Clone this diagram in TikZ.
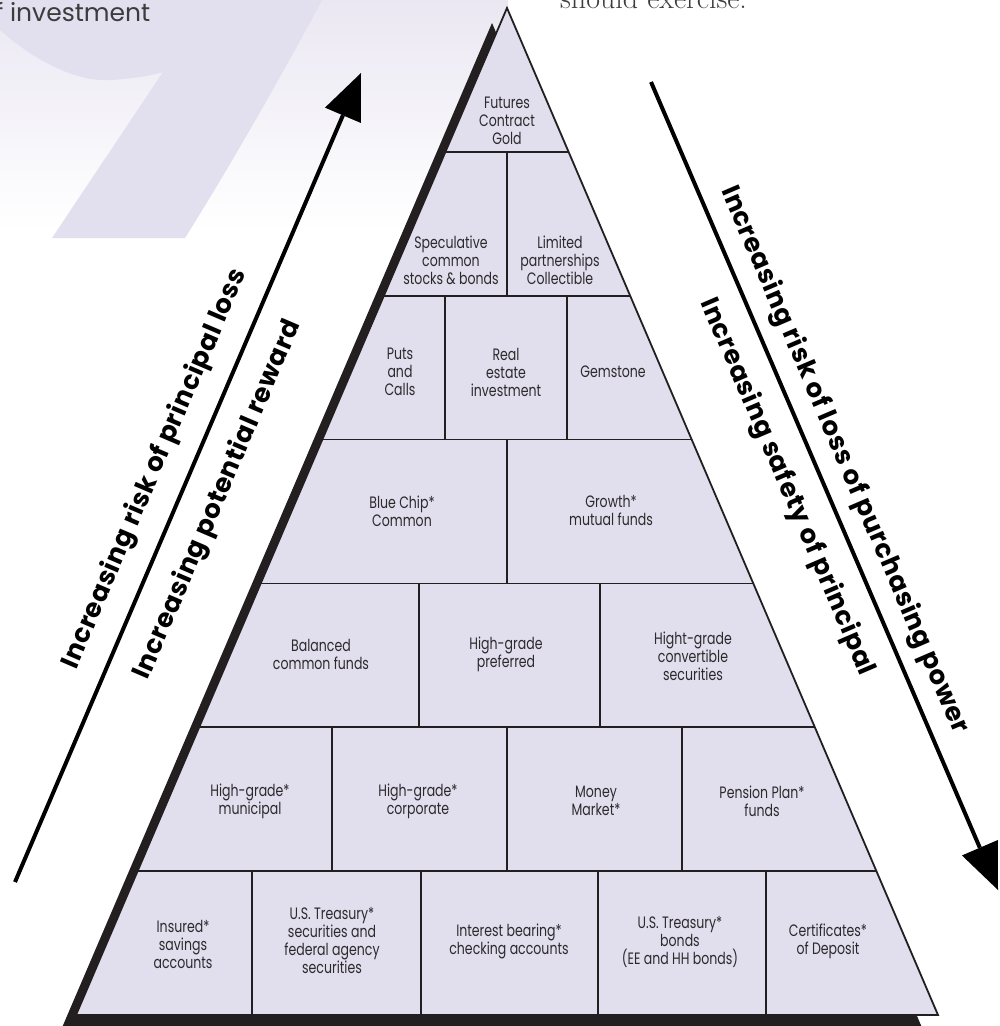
\documentclass[tikz,border=0pt]{standalone}
\usepackage{fontspec}
\newfontfamily\popfont{Poppins}
\newfontfamily\popspaced[LetterSpace=2.5]{Poppins}
\newfontfamily\popnarrow[FakeStretch=0.76]{Poppins}
\usetikzlibrary{calc}
\definecolor{lav}{RGB}{225,222,237}
\definecolor{lavbg}{RGB}{234,231,242}
\definecolor{ninec}{RGB}{226,223,238}
\definecolor{ink}{RGB}{35,31,32}
\definecolor{txt}{RGB}{45,42,45}
\definecolor{pagetxt}{RGB}{60,60,60}
\begin{document}
\begin{tikzpicture}[x=1pt,y=-1pt,
  cell/.style={font=\popnarrow\fontsize{16.5}{18}\selectfont, text=txt, align=center, inner sep=0pt},
  divider/.style={draw=ink, line width=1.8pt},
  arrowline/.style={draw=black, line width=4pt},
  arrowhead/.style={fill=black},
  sidelabel/.style={font=\popspaced\bfseries\fontsize{26}{30}\selectfont, text=black, inner sep=0pt},
  pagetext/.style={text=pagetxt, inner sep=0pt, anchor=base west},
]
\useasboundingbox (0,0) rectangle (1000,1026);
\clip (0,0) rectangle (1000,1026);
% page background pieces
\shade[top color=lavbg, bottom color=white] (0,0) rectangle (508,230);
\fill[ninec] (0,0) -- (0,30) .. controls (40,65) and (80,82) .. (110,80)
  .. controls (130,79) and (150,76) .. (163,72) -- (52,238) -- (185,238)
  .. controls (240,150) and (290,60) .. (322,0) -- cycle;
\node[pagetext, font=\popfont\fontsize{25}{30}\selectfont] (inv) at (-21,21) {of investment};
\node[pagetext, font=\fontsize{30}{36}\selectfont] (exer) at (560,8) {should exercise.};
% pyramid
\coordinate (A) at (507,8);
\coordinate (BL) at (76,1015);
\coordinate (BR) at (938,1015);
\fill[ink] ([shift={(-15,15)}]A) -- ([shift={(-15,15)}]BL) -- ([shift={(-15,15)}]BR) -- cycle;
\filldraw[fill=lav, draw=ink, line width=1.8pt] (A) -- (BL) -- (BR) -- cycle;
\foreach \k in {1,...,6} {
  \coordinate (L\k) at ($(A)!\k/7!(BL)$);
  \coordinate (R\k) at ($(A)!\k/7!(BR)$);
  \draw[divider] (L\k) -- (R\k);
}
% vertical dividers
\draw[divider] (507,151.86) -- (507,295.71);
\draw[divider] (445,295.71) -- (445,439.57);
\draw[divider] (567,295.71) -- (567,439.57);
\draw[divider] (507,439.57) -- (507,583.43);
\draw[divider] (419,583.43) -- (419,727.29);
\draw[divider] (600,583.43) -- (600,727.29);
\draw[divider] (332,727.29) -- (332,871.14);
\draw[divider] (507,727.29) -- (507,871.14);
\draw[divider] (682,727.29) -- (682,871.14);
\draw[divider] (252,871.14) -- (252,1015);
\draw[divider] (421,871.14) -- (421,1015);
\draw[divider] (598,871.14) -- (598,1015);
\draw[divider] (766,871.14) -- (766,1015);
% cell labels
\node[cell] (fut) at (507,121) {Futures\\Contract\\Gold};
\node[cell] (spec) at (451,260) {Speculative\\common\\stocks \& bonds};
\node[cell] (lim) at (560,260) {Limited\\partnerships\\Collectible};
\node[cell] (puts) at (400,372) {Puts\\and\\Calls};
\node[cell] (real) at (506,372) {Real\\estate\\investment};
\node[cell] (gem) at (613,372) {Gemstone};
\node[cell] (blue) at (402,511) {Blue Chip*\\Common};
\node[cell] (grow) at (611,510) {Growth*\\mutual funds};
\node[cell] (bal) at (321,654) {Balanced\\common funds};
\node[cell] (pref) at (506,654) {High-grade\\preferred};
\node[cell] (conv) at (693,656) {Hight-grade\\convertible\\securities};
\node[cell] (muni) at (250,801) {High-grade*\\municipal};
\node[cell] (corp) at (418,801) {High-grade*\\corporate};
\node[cell] (money) at (596,801) {Money\\Market*};
\node[cell] (pens) at (762,801) {Pension Plan*\\funds};
\node[cell] (ins) at (183,944) {Insured*\\savings\\accounts};
\node[cell] (ust) at (332,941) {U.S. Treasury*\\securities and\\federal agency\\securities};
\node[cell] (intb) at (509,941) {Interest bearing*\\checking accounts};
\node[cell] (usb) at (680,942) {U.S. Treasury*\\bonds\\(EE and HH bonds)};
\node[cell] (cd) at (828,941) {Certificates*\\of Deposit};
% arrows
\coordinate (la0) at (15,882);
\coordinate (lt) at (361,73);
\coordinate (lam) at ($(lt)!46pt!(la0)$);
\draw[arrowline] (la0) -- (lam);
\fill[arrowhead] (lt) -- ($(lam)!19.5pt!90:(lt)$) -- ($(lam)!19.5pt!-90:(lt)$) -- cycle;
\coordinate (ra0) at (651,82);
\coordinate (rt) at (998,890);
\coordinate (ram) at ($(rt)!46pt!(ra0)$);
\draw[arrowline] (ra0) -- (ram);
\fill[arrowhead] (rt) -- ($(ram)!19.5pt!90:(rt)$) -- ($(ram)!19.5pt!-90:(rt)$) -- cycle;
% side labels
\node[sidelabel, rotate=66.8] (lo) at (155,469) {Increasing risk of principal loss};
\node[sidelabel, rotate=66.8] (li) at (218,500) {Increasing potential reward};
\node[sidelabel, rotate=-66.8] (ro) at (844,460) {Increasing risk of loss of purchasing power};
\node[sidelabel, rotate=-66.8] (ri) at (787,487) {Increasing safety of principal};
\end{tikzpicture}
\end{document}
